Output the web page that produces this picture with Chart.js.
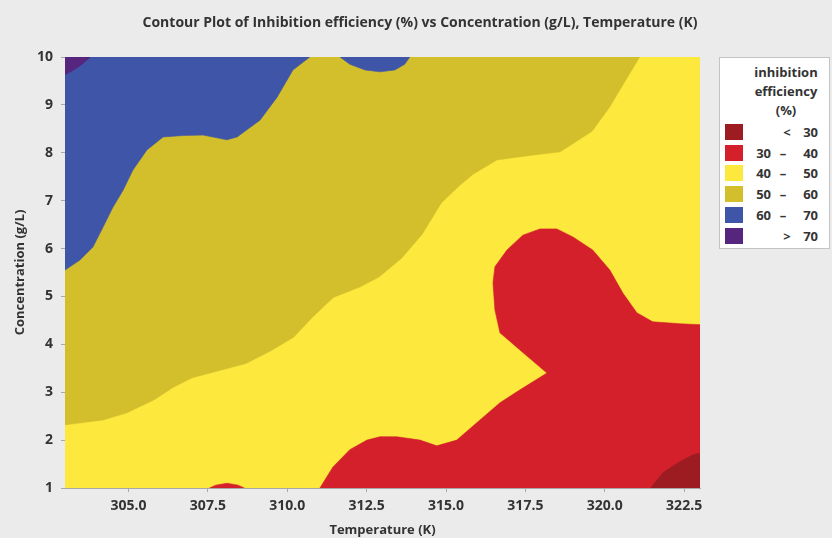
<!DOCTYPE html>
<html>
<head>
<meta charset="utf-8">
<title>Contour Plot of Inhibition efficiency</title>
<script src="https://cdn.jsdelivr.net/npm/chart.js@4.4.1/dist/chart.umd.min.js"></script>
<style>
  html, body { margin: 0; padding: 0; background: #ebebeb; }
  #frame { position: relative; width: 832px; height: 538px; overflow: hidden;
           font-family: "Open Sans", "DejaVu Sans", sans-serif; }
  #plot { position: absolute; left: 0; top: 0; }
  #key { position: absolute; left: 719px; top: 57px; width: 111px; height: 192px;
         box-sizing: border-box; background: #ffffff; border: 1px solid #c4c4c4;
         color: #333333; font-weight: 700; font-size: 13px; }
  #key .head { position: absolute; left: 28px; width: 76px; top: 5px;
               text-align: center; line-height: 19px; }
  #key .row { position: absolute; left: 0; width: 109px; height: 20px; line-height: 20px; }
  #key .sw { position: absolute; left: 5px; top: 2px; width: 18px; height: 16px; }
  #key .lo { position: absolute; left: 24px; width: 27px; text-align: right; }
  #key .mid { position: absolute; left: 55px; width: 16px; text-align: center; }
  #key .sym { position: absolute; left: 59px; width: 16px; text-align: center; }
  #key .hi { position: absolute; left: 70px; width: 28px; text-align: right; }
</style>
</head>
<body>
<div id="frame">
  <canvas id="plot" width="832" height="538"></canvas>
  <div id="key"></div>
</div>
<script>
// Contour bands of inhibition efficiency (%)
const levelLow    = [null, 30, 40, 50, 60, 70];
const levelHigh   = [30, 40, 50, 60, 70, null];
const levelColors = ['#9c1c21', '#d3202a', '#fde83e', '#d3bf2b', '#3f55a8', '#56257d'];
const keyTitle    = ['inhibition', 'efficiency', '(%)'];

// Axis ticks
const tempTicks = [305.0, 307.5, 310.0, 312.5, 315.0, 317.5, 320.0, 322.5];
const concTicks = [1, 2, 3, 4, 5, 6, 7, 8, 9, 10];

// Region outlines as [temperature (K), concentration (g/L)]
const region40to50 = [[303, 1], [323, 1], [323, 10], [303, 10]];

const regionAbove50 = [
  [303, 2.32], [303.5, 2.36], [304.2, 2.42], [304.95, 2.57], [305.8, 2.84],
  [306.4, 3.1], [307.0, 3.3], [307.9, 3.46], [308.7, 3.6], [309.5, 3.87],
  [310.2, 4.15], [310.8, 4.57], [311.45, 4.98], [312.3, 5.2], [312.9, 5.41],
  [313.6, 5.8], [314.25, 6.3], [314.85, 6.95], [315.4, 7.3], [315.85, 7.55],
  [316.6, 7.85], [317.7, 7.95], [318.6, 8.02], [319.6, 8.45], [320.15, 8.95],
  [320.6, 9.45], [321.1, 10], [303, 10]
];

const regionAbove60 = [
  [303, 5.55], [303.47, 5.76], [303.88, 6.03], [304.2, 6.45], [304.5, 6.85],
  [304.83, 7.22], [305.14, 7.64], [305.58, 8.06], [306.09, 8.33], [306.72, 8.36],
  [307.35, 8.37], [308.1, 8.27], [308.42, 8.33], [309.14, 8.68], [309.68, 9.16],
  [310.18, 9.73], [310.71, 10], [303, 10]
];

const regionAbove60Top = [
  [311.66, 10], [311.97, 9.85], [312.45, 9.73], [312.92, 9.69],
  [313.39, 9.73], [313.7, 9.85], [313.86, 10]
];

const regionAbove70 = [[303, 10], [303.8, 10], [303.5, 9.83], [303.2, 9.7], [303, 9.63]];

const regionBelow40 = [
  [311.03, 1], [311.44, 1.44], [311.97, 1.8], [312.51, 2.0], [312.92, 2.07],
  [313.45, 2.07], [314.18, 2.0], [314.71, 1.88], [315.34, 2.0], [316.07, 2.42],
  [316.7, 2.78], [317.33, 3.05], [318.18, 3.4], [317.33, 3.88], [316.7, 4.24],
  [316.54, 4.72], [316.48, 5.28], [316.54, 5.62], [316.92, 5.97], [317.42, 6.28],
  [317.96, 6.41], [318.49, 6.41], [319.0, 6.24], [319.62, 5.97], [320.16, 5.55],
  [320.57, 5.07], [321.01, 4.66], [321.51, 4.47], [322.36, 4.43], [323, 4.41],
  [323, 1]
];

const regionBelow40Bump = [[307.55, 1], [307.75, 1.06], [308.1, 1.1], [308.45, 1.06], [308.65, 1]];

const regionBelow30 = [
  [321.45, 1], [321.83, 1.32], [322.36, 1.55], [322.77, 1.69], [323, 1.73], [323, 1]
];

const FONT = '"Open Sans", "DejaVu Sans", sans-serif';
const INK = '#333333';

// Later entries in this list are painted on top of earlier ones
const layers = [
  [region40to50, 2],
  [regionAbove50, 3],
  [regionAbove60, 4],
  [regionAbove60Top, 4],
  [regionAbove70, 5],
  [regionBelow40, 1],
  [regionBelow40Bump, 1],
  [regionBelow30, 0]
];

const datasets = layers.map(([pts, level], i) => ({
  label: (levelLow[level] ?? '<') + '-' + (levelHigh[level] ?? '>'),
  data: pts.map(([x, y]) => ({ x, y })),
  showLine: true,
  fill: 'shape',
  backgroundColor: levelColors[level],
  borderColor: levelColors[level],
  borderWidth: 0.6,
  pointRadius: 0,
  pointHoverRadius: 0,
  tension: 0,
  clip: 0,
  order: layers.length - i
}));

const axisLine = '#a8a8a8';

new Chart(document.getElementById('plot'), {
  type: 'scatter',
  data: { datasets },
  options: {
    responsive: false,
    animation: false,
    events: [],
    layout: { padding: { left: 8, right: 0, top: 0, bottom: 0 } },
    plugins: {
      legend: { display: false },
      tooltip: { enabled: false },
      title: {
        display: true,
        text: 'Contour Plot of Inhibition efficiency (%) vs Concentration (g/L), Temperature (K)',
        color: INK,
        font: { family: FONT, size: 14, weight: 'bold' },
        padding: { top: 14.6, bottom: 25.6 }
      }
    },
    scales: {
      x: {
        type: 'linear',
        min: 303,
        max: 323,
        afterBuildTicks: s => { s.ticks = tempTicks.map(v => ({ value: v })); },
        afterFit: s => { s.height = 50; },
        ticks: {
          color: INK,
          padding: 6,
          maxRotation: 0,
          font: { family: FONT, size: 14, weight: 'bold' },
          callback: v => Number(v).toFixed(1)
        },
        grid: { display: true, drawOnChartArea: false, tickLength: 4, color: axisLine },
        border: { display: true, color: axisLine, width: 1 },
        title: {
          display: true,
          text: 'Temperature (K)',
          color: INK,
          padding: { top: 0, bottom: 0 },
          font: { family: FONT, size: 13, weight: 'bold' }
        }
      },
      y: {
        type: 'linear',
        min: 1,
        max: 10,
        afterBuildTicks: s => { s.ticks = concTicks.map(v => ({ value: v })); },
        afterFit: s => { s.width = 57; },
        ticks: {
          color: INK,
          padding: 8,
          font: { family: FONT, size: 14, weight: 'bold' }
        },
        grid: { display: true, drawOnChartArea: false, tickLength: 4, color: axisLine },
        border: { display: true, color: axisLine, width: 1 },
        title: {
          display: true,
          text: 'Concentration (g/L)',
          color: INK,
          padding: { top: 4, bottom: 0 },
          font: { family: FONT, size: 13, weight: 'bold' }
        }
      },
      keySpace: {
        type: 'linear',
        position: 'right',
        display: true,
        afterFit: s => { s.width = 132; },
        ticks: { display: false },
        grid: { display: false },
        border: { display: false }
      }
    }
  }
});

// Colour key
const key = document.getElementById('key');
const head = document.createElement('div');
head.className = 'head';
head.innerHTML = keyTitle.join('<br>');
key.appendChild(head);
levelColors.forEach((c, i) => {
  const row = document.createElement('div');
  row.className = 'row';
  row.style.top = (64 + i * 20.7) + 'px';
  const sw = document.createElement('div');
  sw.className = 'sw';
  sw.style.background = c;
  const lo = document.createElement('span');
  lo.className = 'lo';
  const mid = document.createElement('span');
  mid.className = 'mid';
  const hi = document.createElement('span');
  hi.className = 'hi';
  if (levelLow[i] === null) {
    mid.className = 'sym';
    mid.textContent = '<';
    hi.textContent = levelHigh[i];
  } else if (levelHigh[i] === null) {
    mid.className = 'sym';
    mid.textContent = '>';
    hi.textContent = levelLow[i];
  } else {
    lo.textContent = levelLow[i];
    mid.textContent = '–';
    hi.textContent = levelHigh[i];
  }
  row.append(sw, lo, mid, hi);
  key.appendChild(row);
});
</script>
</body>
</html>
